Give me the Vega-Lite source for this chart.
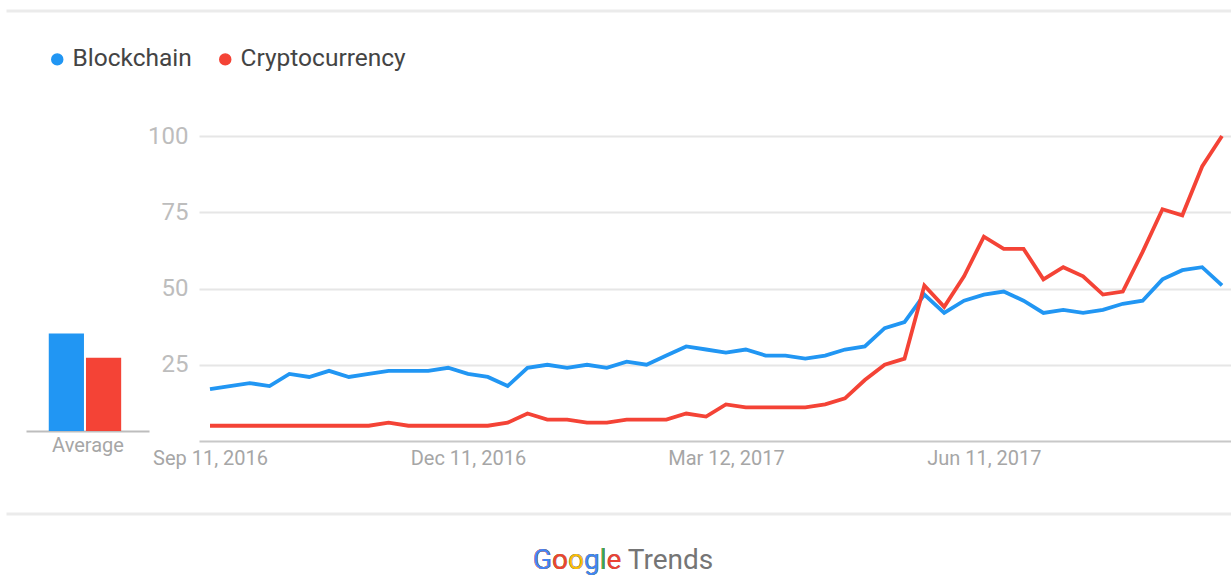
{
  "$schema": "https://vega.github.io/schema/vega-lite/v6.json",
  "padding": {"left": 6, "top": 9, "right": 0, "bottom": 0},
  "background": "white",
  "datasets": {
    "trend": [
      {"week": "2016/09/11", "series": "Blockchain", "value": 17},
      {"week": "2016/09/18", "series": "Blockchain", "value": 18},
      {"week": "2016/09/25", "series": "Blockchain", "value": 19},
      {"week": "2016/10/02", "series": "Blockchain", "value": 18},
      {"week": "2016/10/09", "series": "Blockchain", "value": 22},
      {"week": "2016/10/16", "series": "Blockchain", "value": 21},
      {"week": "2016/10/23", "series": "Blockchain", "value": 23},
      {"week": "2016/10/30", "series": "Blockchain", "value": 21},
      {"week": "2016/11/06", "series": "Blockchain", "value": 22},
      {"week": "2016/11/13", "series": "Blockchain", "value": 23},
      {"week": "2016/11/20", "series": "Blockchain", "value": 23},
      {"week": "2016/11/27", "series": "Blockchain", "value": 23},
      {"week": "2016/12/04", "series": "Blockchain", "value": 24},
      {"week": "2016/12/11", "series": "Blockchain", "value": 22},
      {"week": "2016/12/18", "series": "Blockchain", "value": 21},
      {"week": "2016/12/25", "series": "Blockchain", "value": 18},
      {"week": "2017/01/01", "series": "Blockchain", "value": 24},
      {"week": "2017/01/08", "series": "Blockchain", "value": 25},
      {"week": "2017/01/15", "series": "Blockchain", "value": 24},
      {"week": "2017/01/22", "series": "Blockchain", "value": 25},
      {"week": "2017/01/29", "series": "Blockchain", "value": 24},
      {"week": "2017/02/05", "series": "Blockchain", "value": 26},
      {"week": "2017/02/12", "series": "Blockchain", "value": 25},
      {"week": "2017/02/19", "series": "Blockchain", "value": 28},
      {"week": "2017/02/26", "series": "Blockchain", "value": 31},
      {"week": "2017/03/05", "series": "Blockchain", "value": 30},
      {"week": "2017/03/12", "series": "Blockchain", "value": 29},
      {"week": "2017/03/19", "series": "Blockchain", "value": 30},
      {"week": "2017/03/26", "series": "Blockchain", "value": 28},
      {"week": "2017/04/02", "series": "Blockchain", "value": 28},
      {"week": "2017/04/09", "series": "Blockchain", "value": 27},
      {"week": "2017/04/16", "series": "Blockchain", "value": 28},
      {"week": "2017/04/23", "series": "Blockchain", "value": 30},
      {"week": "2017/04/30", "series": "Blockchain", "value": 31},
      {"week": "2017/05/07", "series": "Blockchain", "value": 37},
      {"week": "2017/05/14", "series": "Blockchain", "value": 39},
      {"week": "2017/05/21", "series": "Blockchain", "value": 48},
      {"week": "2017/05/28", "series": "Blockchain", "value": 42},
      {"week": "2017/06/04", "series": "Blockchain", "value": 46},
      {"week": "2017/06/11", "series": "Blockchain", "value": 48},
      {"week": "2017/06/18", "series": "Blockchain", "value": 49},
      {"week": "2017/06/25", "series": "Blockchain", "value": 46},
      {"week": "2017/07/02", "series": "Blockchain", "value": 42},
      {"week": "2017/07/09", "series": "Blockchain", "value": 43},
      {"week": "2017/07/16", "series": "Blockchain", "value": 42},
      {"week": "2017/07/23", "series": "Blockchain", "value": 43},
      {"week": "2017/07/30", "series": "Blockchain", "value": 45},
      {"week": "2017/08/06", "series": "Blockchain", "value": 46},
      {"week": "2017/08/13", "series": "Blockchain", "value": 53},
      {"week": "2017/08/20", "series": "Blockchain", "value": 56},
      {"week": "2017/08/27", "series": "Blockchain", "value": 57},
      {"week": "2017/09/03", "series": "Blockchain", "value": 51},
      {"week": "2016/09/11", "series": "Cryptocurrency", "value": 5},
      {"week": "2016/09/18", "series": "Cryptocurrency", "value": 5},
      {"week": "2016/09/25", "series": "Cryptocurrency", "value": 5},
      {"week": "2016/10/02", "series": "Cryptocurrency", "value": 5},
      {"week": "2016/10/09", "series": "Cryptocurrency", "value": 5},
      {"week": "2016/10/16", "series": "Cryptocurrency", "value": 5},
      {"week": "2016/10/23", "series": "Cryptocurrency", "value": 5},
      {"week": "2016/10/30", "series": "Cryptocurrency", "value": 5},
      {"week": "2016/11/06", "series": "Cryptocurrency", "value": 5},
      {"week": "2016/11/13", "series": "Cryptocurrency", "value": 6},
      {"week": "2016/11/20", "series": "Cryptocurrency", "value": 5},
      {"week": "2016/11/27", "series": "Cryptocurrency", "value": 5},
      {"week": "2016/12/04", "series": "Cryptocurrency", "value": 5},
      {"week": "2016/12/11", "series": "Cryptocurrency", "value": 5},
      {"week": "2016/12/18", "series": "Cryptocurrency", "value": 5},
      {"week": "2016/12/25", "series": "Cryptocurrency", "value": 6},
      {"week": "2017/01/01", "series": "Cryptocurrency", "value": 9},
      {"week": "2017/01/08", "series": "Cryptocurrency", "value": 7},
      {"week": "2017/01/15", "series": "Cryptocurrency", "value": 7},
      {"week": "2017/01/22", "series": "Cryptocurrency", "value": 6},
      {"week": "2017/01/29", "series": "Cryptocurrency", "value": 6},
      {"week": "2017/02/05", "series": "Cryptocurrency", "value": 7},
      {"week": "2017/02/12", "series": "Cryptocurrency", "value": 7},
      {"week": "2017/02/19", "series": "Cryptocurrency", "value": 7},
      {"week": "2017/02/26", "series": "Cryptocurrency", "value": 9},
      {"week": "2017/03/05", "series": "Cryptocurrency", "value": 8},
      {"week": "2017/03/12", "series": "Cryptocurrency", "value": 12},
      {"week": "2017/03/19", "series": "Cryptocurrency", "value": 11},
      {"week": "2017/03/26", "series": "Cryptocurrency", "value": 11},
      {"week": "2017/04/02", "series": "Cryptocurrency", "value": 11},
      {"week": "2017/04/09", "series": "Cryptocurrency", "value": 11},
      {"week": "2017/04/16", "series": "Cryptocurrency", "value": 12},
      {"week": "2017/04/23", "series": "Cryptocurrency", "value": 14},
      {"week": "2017/04/30", "series": "Cryptocurrency", "value": 20},
      {"week": "2017/05/07", "series": "Cryptocurrency", "value": 25},
      {"week": "2017/05/14", "series": "Cryptocurrency", "value": 27},
      {"week": "2017/05/21", "series": "Cryptocurrency", "value": 51},
      {"week": "2017/05/28", "series": "Cryptocurrency", "value": 44},
      {"week": "2017/06/04", "series": "Cryptocurrency", "value": 54},
      {"week": "2017/06/11", "series": "Cryptocurrency", "value": 67},
      {"week": "2017/06/18", "series": "Cryptocurrency", "value": 63},
      {"week": "2017/06/25", "series": "Cryptocurrency", "value": 63},
      {"week": "2017/07/02", "series": "Cryptocurrency", "value": 53},
      {"week": "2017/07/09", "series": "Cryptocurrency", "value": 57},
      {"week": "2017/07/16", "series": "Cryptocurrency", "value": 54},
      {"week": "2017/07/23", "series": "Cryptocurrency", "value": 48},
      {"week": "2017/07/30", "series": "Cryptocurrency", "value": 49},
      {"week": "2017/08/06", "series": "Cryptocurrency", "value": 62},
      {"week": "2017/08/13", "series": "Cryptocurrency", "value": 76},
      {"week": "2017/08/20", "series": "Cryptocurrency", "value": 74},
      {"week": "2017/08/27", "series": "Cryptocurrency", "value": 90},
      {"week": "2017/09/03", "series": "Cryptocurrency", "value": 100}
    ],
    "avg": [
      {"series": "Blockchain", "value": 32},
      {"series": "Cryptocurrency", "value": 24}
    ],
    "logo": [
      {"t": "Google Trends", "k": "Trends"},
      {"t": "Google", "k": "e"},
      {"t": "Googl", "k": "l"},
      {"t": "Goog", "k": "g"},
      {"t": "Goo", "k": "o2"},
      {"t": "Go", "k": "o1"},
      {"t": "G", "k": "G"}
    ]
  },
  "spacing": 44,
  "vconcat": [
    {
      "spacing": 111,
      "vconcat": [
        {
          "width": 1222,
          "height": 0.001,
          "view": {"stroke": "#ebebeb", "strokeWidth": 3},
          "data": {"values": [{}]},
          "mark": "rule",
          "encoding": {}
        },
        {
          "spacing": 17,
          "bounds": "flush",
          "hconcat": [
            {
              "width": 0.001,
              "height": 0.001,
              "data": {"values": [{}]},
              "mark": "rule",
              "encoding": {}
            },
            {
              "spacing": 50,
              "bounds": "flush",
              "hconcat": [
                {
                  "width": 123,
                  "height": 295,
                  "data": {"name": "avg"},
                  "mark": {"type": "bar"},
                  "encoding": {
                    "x": {
                      "field": "series",
                      "type": "nominal",
                      "scale": {"paddingInner": 0.054, "paddingOuter": 0.68, "align": 0.45},
                      "axis": {
                        "labels": false,
                        "ticks": false,
                        "grid": false,
                        "title": "Average",
                        "domainColor": "#bdbdbd",
                        "domainWidth": 2,
                        "titleFontSize": 20,
                        "titleFontWeight": "normal",
                        "titleColor": "#a6a6a6",
                        "titlePadding": 4
                      }
                    },
                    "y": {
                      "field": "value",
                      "type": "quantitative",
                      "scale": {"domain": [0, 96.7], "nice": false},
                      "axis": null
                    },
                    "color": {
                      "field": "series",
                      "type": "nominal",
                      "scale": {"domain": ["Blockchain", "Cryptocurrency"], "range": ["#2196F3", "#F44336"]},
                      "legend": {
                        "title": null,
                        "orient": "none",
                        "legendX": 37,
                        "legendY": 36,
                        "direction": "horizontal",
                        "symbolType": "circle",
                        "symbolSize": 120,
                        "labelFontSize": 24.5,
                        "labelColor": "#444444",
                        "labelFont": "Roboto",
                        "labelLimit": 400,
                        "columnPadding": 21,
                        "labelOffset": 3
                      }
                    }
                  }
                },
                {
                  "width": 1034,
                  "height": 305,
                  "data": {"name": "trend"},
                  "mark": {"type": "line", "strokeWidth": 3.8},
                  "encoding": {
                    "x": {
                      "field": "week",
                      "type": "temporal",
                      "scale": {"padding": 11, "nice": false},
                      "axis": {
                        "values": [
                          {"year": 2016, "month": "sep", "date": 11},
                          {"year": 2016, "month": "dec", "date": 11},
                          {"year": 2017, "month": "mar", "date": 12},
                          {"year": 2017, "month": "jun", "date": 11}
                        ],
                        "format": "%b %d, %Y",
                        "labelFontSize": 20,
                        "labelColor": "#a6a6a6",
                        "labelFlush": false,
                        "labelOverlap": false,
                        "ticks": false,
                        "tickSize": 0,
                        "grid": false,
                        "domainColor": "#c8c8c8",
                        "domainWidth": 2,
                        "labelPadding": 7,
                        "title": null
                      }
                    },
                    "y": {
                      "field": "value",
                      "type": "quantitative",
                      "scale": {"domain": [0, 100], "nice": false},
                      "axis": {
                        "values": [25, 50, 75, 100],
                        "labelFontSize": 24,
                        "labelColor": "#bdbdbd",
                        "ticks": false,
                        "tickSize": 0,
                        "domain": false,
                        "grid": true,
                        "gridColor": "#e6e6e6",
                        "gridWidth": 2,
                        "labelPadding": 11,
                        "title": null
                      }
                    },
                    "color": {"field": "series", "type": "nominal", "legend": null}
                  }
                }
              ]
            }
          ]
        }
      ]
    },
    {
      "width": 1222,
      "height": 0.001,
      "view": {"stroke": "#ebebeb", "strokeWidth": 3},
      "data": {"name": "logo"},
      "mark": {"type": "text", "align": "left", "baseline": "alphabetic", "dx": -86, "dy": 55, "fontSize": 28, "font": "Roboto"},
      "encoding": {
        "text": {"field": "t"},
        "fill": {
          "field": "k",
          "type": "nominal",
          "scale": {
            "domain": ["Trends", "e", "l", "g", "o2", "o1", "G"],
            "range": ["#757575", "#EA4335", "#34A853", "#4285F4", "#FBBC05", "#EA4335", "#4285F4"]
          },
          "legend": null
        }
      }
    }
  ],
  "config": {
    "view": {"stroke": null},
    "font": "Roboto",
    "axis": {"labelFont": "Roboto", "titleFont": "Roboto"},
    "legend": {"labelFont": "Roboto"}
  }
}
